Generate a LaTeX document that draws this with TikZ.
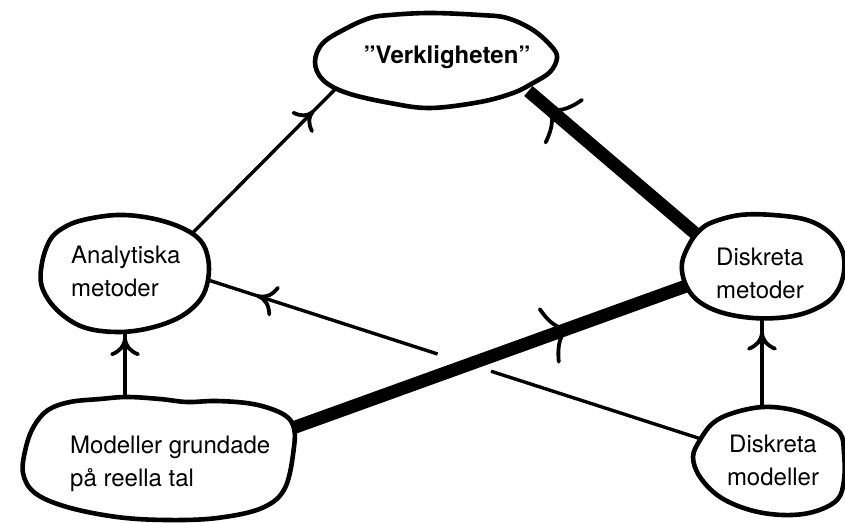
\documentclass[tikz,border=0pt]{standalone}
\usepackage{fontspec}
\setmainfont{TeX Gyre Heros}
\usetikzlibrary{shapes.geometric,decorations.markings,calc}

\tikzset{
  anchorshape/.style={ellipse, draw=none, inner sep=0pt, outer sep=0pt},
  blob/.style={line width=4.6pt, line join=round, fill=white},
  txt/.style={font=\fontsize{24}{33}\selectfont, inner sep=0pt},
  thinlink/.style={line width=3.4pt},
  thicklink/.style={line width=13pt},
  barb/.style={line width=3.8pt, line cap=round, line join=round},
  midarrow/.style n args={3}{postaction={decorate, decoration={markings,
      mark=at position #1 with {\draw[barb] (-#2pt,#3pt)
        .. controls (-0.8*#2pt,0.4*#3pt) and (-0.5*#2pt,0.05*#3pt) .. (0pt,0pt)
        .. controls (-0.5*#2pt,-0.05*#3pt) and (-0.8*#2pt,-0.4*#3pt) .. (-#2pt,-#3pt);}}}},
}

\begin{document}
\begin{tikzpicture}[x=1pt,y=-1pt]
\useasboundingbox (0,0) rectangle (845,522);

% invisible ellipses that give the connectors their end points
\node[anchorshape, minimum width=242pt, minimum height=93pt]  (v)   at (436,61)  {};
\node[anchorshape, minimum width=170pt, minimum height=117pt] (am)  at (125,273) {};
\node[anchorshape, minimum width=161pt, minimum height=103pt] (dme) at (762,267) {};
\node[anchorshape, minimum width=280pt, minimum height=120pt] (mg)  at (158,458) {};
\node[anchorshape, minimum width=155pt, minimum height=106pt] (dmo) at (770,460) {};

% connectors
\draw[thinlink, midarrow={0.835}{14}{13}] (am.30) -- (v.195);
\draw[thicklink, midarrow={0.89}{22}{28}] (dme.154) -- (v.342);
\draw[thicklink, midarrow={0.71}{22}{28}] (mg.12) -- (dme.194);
\draw[thinlink] (dmo.163) -- ($(dmo.163)!0.425!(am.355)$);
\draw[thinlink, midarrow={0.785}{16}{14}] ($(dmo.163)!0.534!(am.355)$) -- (am.355);
\draw[thinlink, midarrow={0.9}{16}{13}] (am.south |- mg.118) -- (am.south);
\draw[thinlink, midarrow={0.84}{16}{13}] (dme.south |- dmo.97) -- (dme.south);

% hand-drawn outlines
\draw[blob] plot[smooth cycle, tension=0.6] coordinates {
  (390,15) (430,13) (480,15) (507,18) (533,30) (552,47) (557,58) (550,72)
  (533,83) (513,93) (480,102) (430,108) (390,103) (347,93) (323,80) (315,62)
  (323,43) (347,28) (370,18)};
\draw[blob] plot[smooth cycle, tension=0.6] coordinates {
  (83,220) (117,215) (150,218) (180,227) (200,240) (208,258) (208,280) (200,300)
  (180,317) (150,328) (117,332) (83,327) (57,310) (42,287) (42,263) (50,240) (63,228)};
\draw[blob] plot[smooth cycle, tension=0.6] coordinates {
  (713,222) (740,215) (773,215) (807,220) (830,233) (843,253) (843,277) (833,297)
  (813,310) (787,317) (753,318) (720,312) (697,300) (685,283) (682,263) (690,243) (700,230)};
\draw[blob] plot[smooth cycle, tension=0.6] coordinates {
  (48,410) (70,402) (100,399) (127,397) (160,399) (187,402) (217,401) (253,404)
  (281,413) (293,425) (294,447) (285,488) (262,508) (217,518) (167,520) (117,517)
  (67,507) (35,493) (23,473) (26,447) (34,426)};
\draw[blob] plot[smooth cycle, tension=0.6] coordinates {
  (733,413) (763,407) (793,410) (820,420) (840,433) (844,453) (844,480) (837,500)
  (813,512) (783,515) (750,510) (720,497) (700,477) (693,457) (700,440) (713,423)};

% texts
\node[txt, font=\fontsize{24}{33}\selectfont\bfseries, anchor=base] (vt) at (447,63) {”Verkligheten”};
\node[txt, align=left, anchor=north west] (amt) at (71,246) {Analytiska\\metoder};
\node[txt, align=center, anchor=north] (dmet) at (760,247.5) {Diskreta\\metoder};
\node[txt, align=left, anchor=north west] (mgt) at (70,435.5) {Modeller grundade\\på reella tal};
\node[txt, align=center, anchor=north] (dmot) at (773,434.5) {Diskreta\\modeller};
\end{tikzpicture}
\end{document}
